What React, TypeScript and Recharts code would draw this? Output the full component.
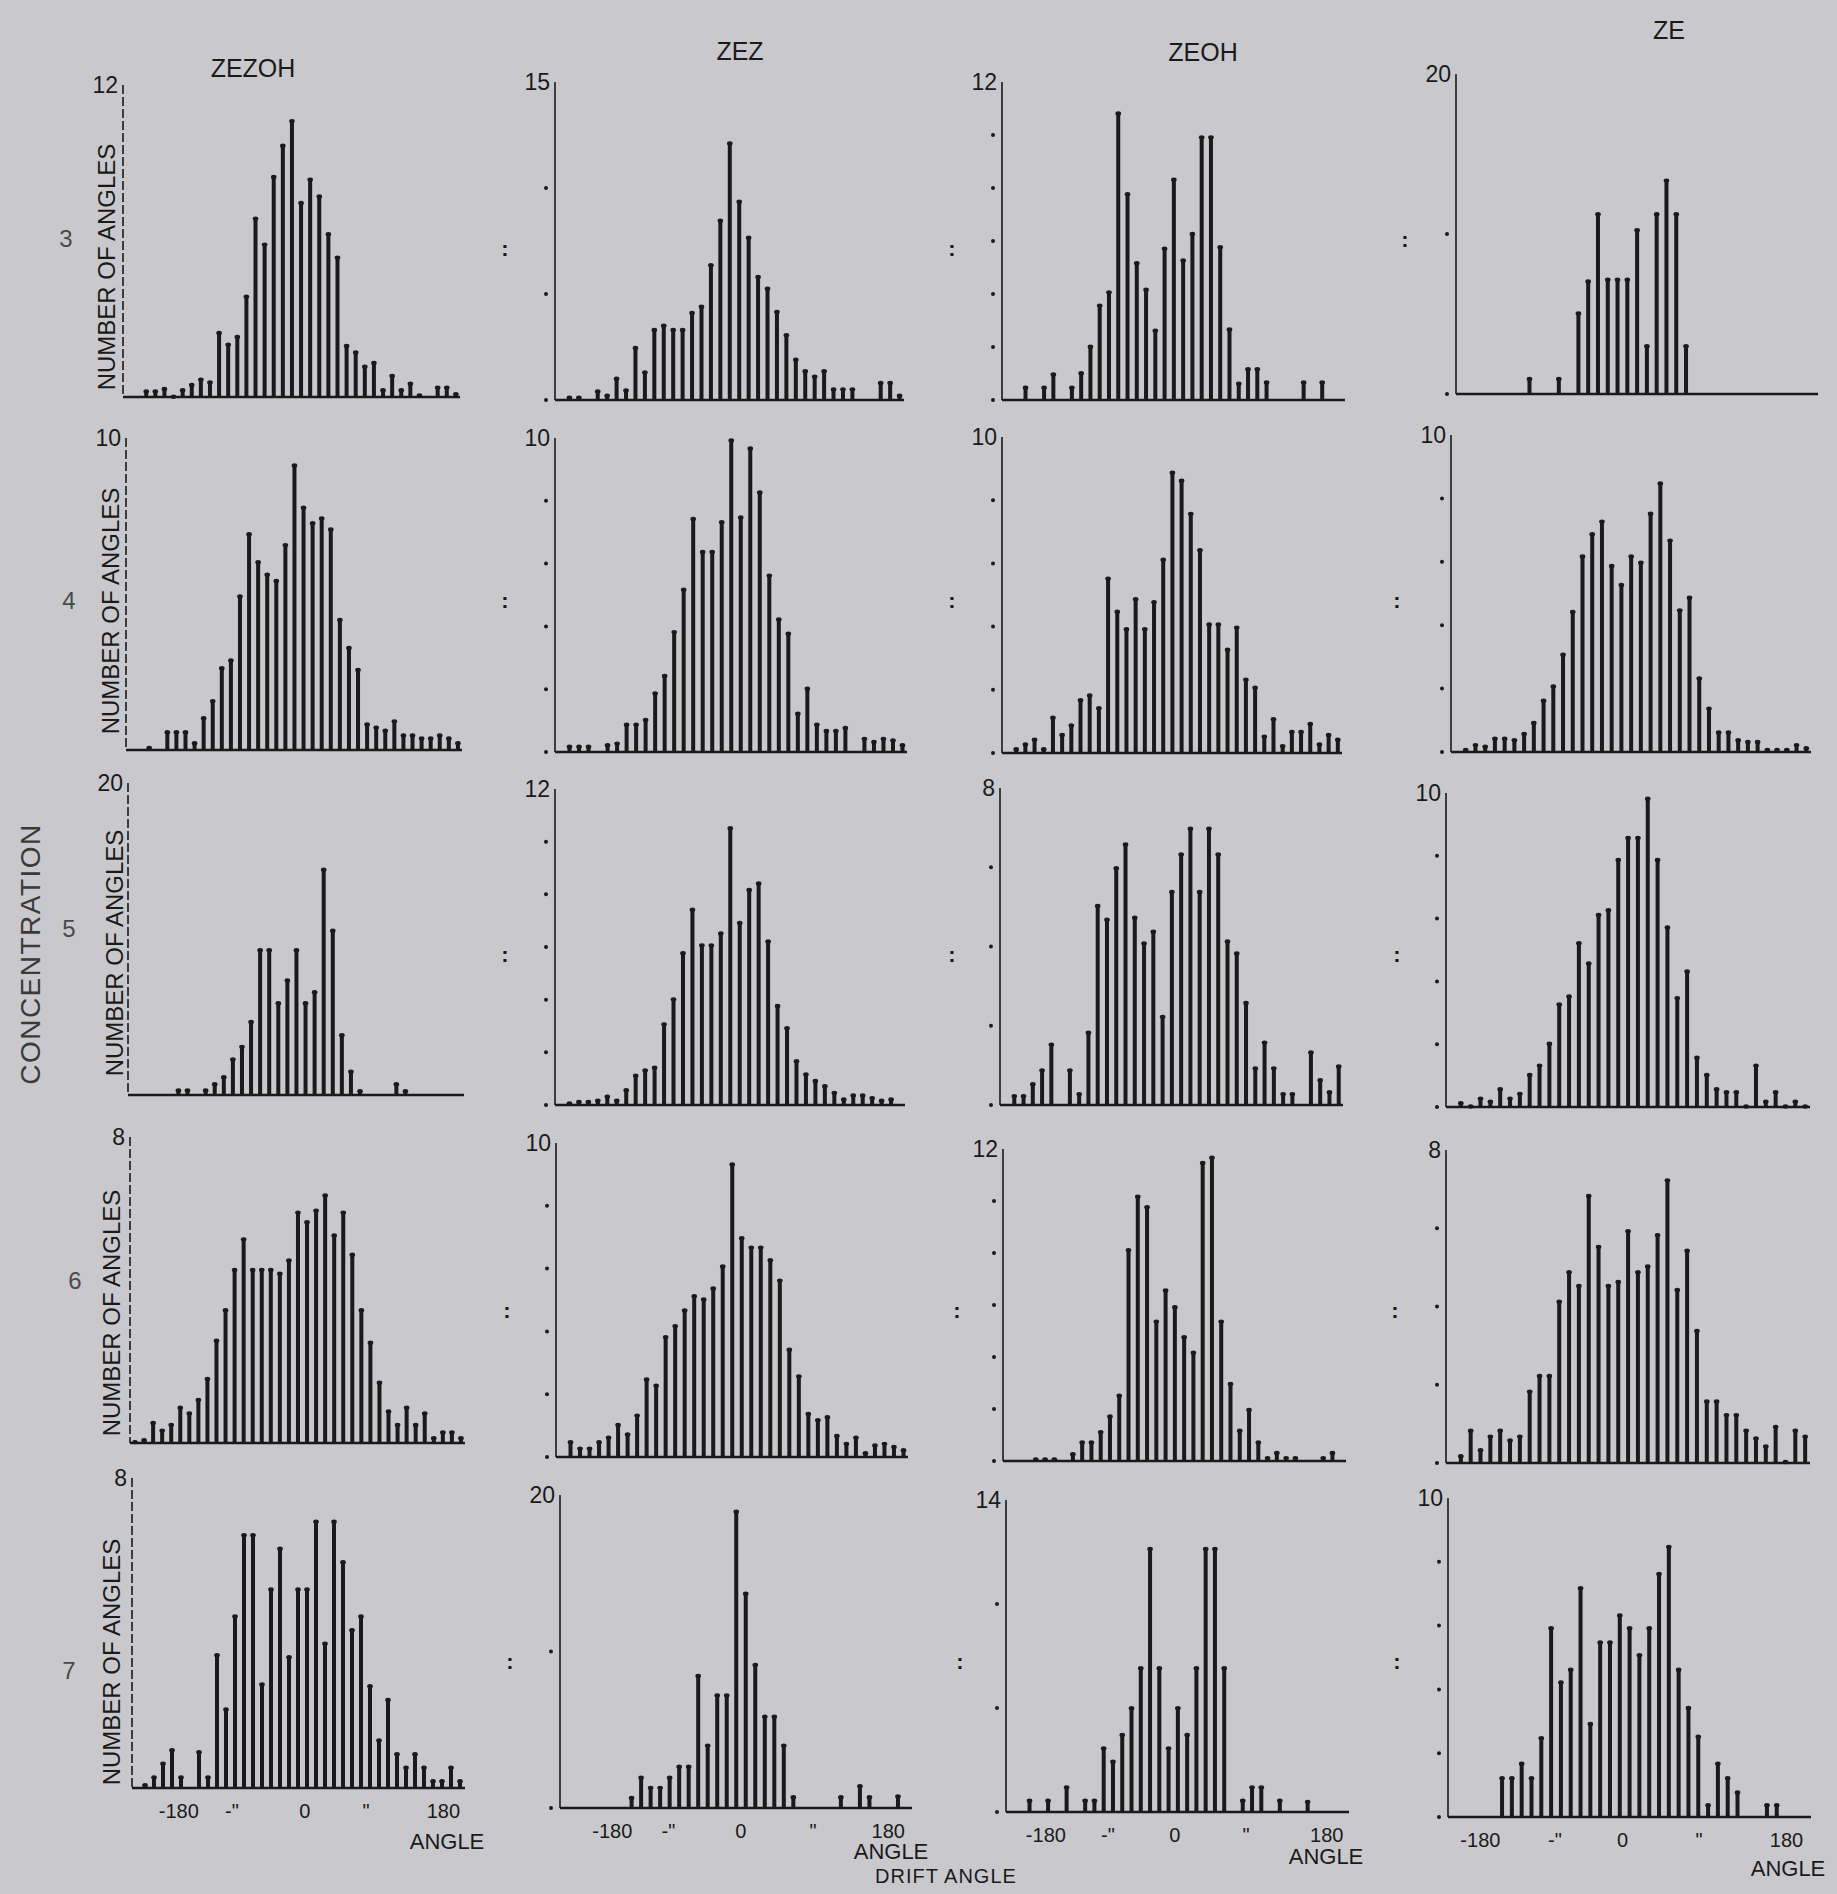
import React from "react";
import { BarChart, Bar, XAxis, YAxis } from "recharts";

const INK = "#1a1a1a";
const PAPER = "#c9c9cd";
const FONT = "'Liberation Sans', Arial, sans-serif";

const COMPOUNDS = ["ZEZOH", "ZEZ", "ZEOH", "ZE"];
const CONCENTRATIONS = ["3", "4", "5", "6", "7"];
const ANGLE_LABELS = ["-180", "-\"", "0", "\"", "180"];

// counts per angle bin (37 bins)
const ZEZOH_3 = [0, 0, 0.25, 0.25, 0.35, 0.05, 0.3, 0.5, 0.7, 0.6, 2.5, 2.05, 2.35, 3.9, 6.9, 5.9, 8.5, 9.7, 10.65, 7.5, 8.4, 7.75, 6.3, 5.4, 2.0, 1.75, 1.2, 1.35, 0.3, 0.85, 0.3, 0.55, 0.1, 0, 0.4, 0.4, 0.15];
const ZEZ_3 = [0, 0.15, 0.15, 0, 0.45, 0.25, 1.05, 0.5, 2.5, 1.35, 3.35, 3.55, 3.35, 3.35, 4.15, 4.45, 6.4, 8.5, 12.15, 9.4, 7.7, 5.85, 5.3, 4.2, 3.1, 1.95, 1.4, 1.15, 1.4, 0.55, 0.55, 0.55, 0, 0, 0.85, 0.85, 0.25];
const ZEOH_3 = [0, 0, 0.5, 0, 0.5, 1.0, 0, 0.5, 1.05, 2.05, 3.6, 4.1, 10.85, 7.8, 5.2, 4.2, 2.65, 5.75, 8.35, 5.3, 6.3, 9.95, 9.95, 5.8, 2.7, 0.65, 1.2, 1.2, 0.7, 0, 0, 0, 0.7, 0, 0.7, 0, 0];
const ZE_3 = [0, 0, 0, 0, 0, 0, 0, 1.0, 0, 0, 1.0, 0, 5.1, 7.1, 11.3, 7.2, 7.2, 7.2, 10.3, 3.05, 11.3, 13.4, 11.3, 3.05, 0, 0, 0, 0, 0, 0, 0, 0, 0, 0, 0, 0, 0];

const ZEZOH_4 = [0, 0, 0.1, 0, 0.6, 0.6, 0.6, 0.25, 1.05, 1.6, 2.65, 2.9, 4.95, 6.95, 6.05, 5.65, 5.45, 6.6, 9.15, 7.8, 7.3, 7.45, 7.1, 4.2, 3.3, 2.6, 0.85, 0.75, 0.65, 0.95, 0.5, 0.5, 0.4, 0.4, 0.5, 0.4, 0.25];
const ZEZ_4 = [0, 0.2, 0.2, 0.2, 0, 0.25, 0.3, 0.9, 0.9, 1.05, 1.9, 2.45, 3.85, 5.2, 7.45, 6.4, 6.4, 7.35, 9.95, 7.5, 9.7, 8.3, 5.65, 4.25, 3.8, 1.25, 2.05, 0.9, 0.7, 0.7, 0.8, 0, 0.45, 0.35, 0.45, 0.4, 0.25];
const ZEOH_4 = [0, 0.15, 0.3, 0.45, 0.15, 1.15, 0.6, 0.9, 1.7, 1.85, 1.45, 5.55, 4.5, 3.95, 4.9, 3.95, 4.8, 6.15, 8.9, 8.65, 7.6, 6.45, 4.1, 4.1, 3.3, 4.0, 2.35, 2.1, 0.55, 1.1, 0.25, 0.7, 0.7, 0.95, 0.3, 0.6, 0.45];
const ZE_4 = [0, 0.1, 0.25, 0.2, 0.45, 0.45, 0.4, 0.6, 0.95, 1.65, 2.1, 3.1, 4.45, 6.2, 6.9, 7.3, 5.9, 5.3, 6.2, 6.0, 7.55, 8.5, 6.7, 4.5, 4.9, 2.35, 1.4, 0.65, 0.65, 0.4, 0.35, 0.35, 0.1, 0.1, 0.1, 0.25, 0.15];

const ZEZOH_5 = [0, 0, 0, 0, 0, 0.35, 0.35, 0, 0.35, 0.75, 1.2, 2.35, 3.15, 4.75, 9.35, 9.35, 5.95, 7.4, 9.35, 5.95, 6.65, 14.5, 10.6, 3.9, 1.55, 0.3, 0, 0, 0, 0.75, 0.3, 0, 0, 0, 0, 0, 0];
const ZEZ_5 = [0, 0.1, 0.15, 0.15, 0.2, 0.35, 0.2, 0.6, 1.15, 1.35, 1.45, 3.1, 4.05, 5.8, 7.45, 6.1, 6.1, 6.55, 10.55, 6.95, 8.2, 8.45, 6.25, 3.8, 2.95, 1.7, 1.2, 0.95, 0.75, 0.5, 0.25, 0.4, 0.4, 0.3, 0.2, 0.25, 0];
const ZEOH_5 = [0, 0.25, 0.25, 0.55, 0.9, 1.55, 0, 0.9, 0.3, 1.85, 5.05, 4.7, 6.0, 6.6, 4.75, 4.1, 4.4, 2.25, 5.4, 6.35, 7.0, 5.4, 7.0, 6.35, 4.15, 3.85, 2.6, 0.95, 1.6, 0.95, 0.3, 0.3, 0, 1.35, 0.65, 0.35, 1.0];
const ZE_5 = [0, 0.15, 0.05, 0.3, 0.2, 0.6, 0.3, 0.45, 1.05, 1.35, 2.05, 3.3, 3.55, 5.25, 4.6, 6.15, 6.3, 7.9, 8.6, 8.6, 9.85, 7.9, 5.75, 3.5, 4.35, 1.6, 1.05, 0.6, 0.5, 0.5, 0.05, 1.35, 0.2, 0.5, 0.05, 0.2, 0.05];

const ZEZOH_6 = [0.05, 0.1, 0.55, 0.35, 0.5, 0.95, 0.8, 1.15, 1.7, 2.7, 3.5, 4.55, 5.35, 4.55, 4.55, 4.55, 4.45, 4.8, 6.05, 5.8, 6.1, 6.5, 5.45, 6.05, 4.95, 3.5, 2.65, 1.6, 0.85, 0.5, 0.95, 0.5, 0.8, 0.15, 0.3, 0.3, 0.15];
const ZEZ_6 = [0, 0.5, 0.3, 0.3, 0.5, 0.65, 1.05, 0.75, 1.35, 2.5, 2.3, 3.85, 4.2, 4.7, 5.15, 5.05, 5.4, 6.1, 9.35, 7.0, 6.7, 6.7, 6.3, 5.65, 3.45, 2.6, 1.4, 1.2, 1.3, 0.7, 0.45, 0.65, 0.15, 0.4, 0.45, 0.35, 0.25];
const ZEOH_6 = [0, 0, 0, 0.1, 0.1, 0.1, 0, 0.3, 0.75, 0.75, 1.15, 1.75, 2.55, 8.15, 10.2, 9.8, 5.4, 6.6, 5.95, 4.8, 4.2, 11.5, 11.7, 5.4, 3.0, 1.2, 2.0, 0.75, 0.15, 0.35, 0.15, 0.15, 0, 0, 0.15, 0.35, 0];
const ZE_6 = [0, 0.2, 0.85, 0.35, 0.7, 0.85, 0.6, 0.7, 1.85, 2.25, 2.25, 4.15, 4.9, 4.55, 6.85, 5.55, 4.55, 4.65, 5.95, 4.9, 5.05, 5.85, 7.25, 4.45, 5.45, 3.4, 1.6, 1.6, 1.25, 1.25, 0.85, 0.65, 0.45, 0.95, 0.05, 0.85, 0.7];

const ZEZOH_7 = [0, 0.1, 0.3, 0.65, 1.0, 0.3, 0, 0.95, 0.3, 3.45, 2.05, 4.45, 6.55, 6.55, 2.7, 5.15, 6.2, 3.4, 5.15, 5.15, 6.9, 3.75, 6.9, 5.85, 4.1, 4.45, 2.65, 1.25, 2.3, 0.9, 0.55, 0.9, 0.55, 0.2, 0.2, 0.55, 0.2];
const ZEZ_7 = [0, 0, 0, 0, 0, 0, 0, 0.7, 2.0, 1.35, 1.35, 2.0, 2.7, 2.7, 8.5, 4.05, 7.25, 7.25, 19.0, 13.75, 9.2, 5.9, 5.9, 4.05, 0.75, 0, 0, 0, 0, 0.75, 0, 1.45, 0.75, 0, 0, 0.8, 0];
const ZEOH_7 = [0, 0, 0.55, 0, 0.55, 0, 1.15, 0, 0.55, 0.55, 2.9, 2.3, 3.5, 4.7, 6.5, 11.85, 6.5, 2.9, 4.7, 3.5, 6.5, 11.85, 11.85, 6.5, 0, 0.55, 1.15, 1.15, 0, 0.55, 0, 0, 0.5, 0, 0, 0, 0];
const ZE_7 = [0, 0, 0, 0, 0, 1.25, 1.25, 1.7, 1.25, 2.5, 5.95, 4.25, 4.65, 7.2, 2.95, 5.5, 5.5, 6.35, 5.95, 5.1, 5.95, 7.65, 8.5, 4.65, 3.45, 2.55, 0.4, 1.7, 1.25, 0.8, 0, 0, 0.4, 0.4, 0, 0, 0];

// y-axis ticks of each panel (last one is the printed maximum)
const Y_TICKS = [
  [[0, 12], [0, 5, 10, 15], [0, 2, 4, 6, 8, 10, 12], [0, 10, 20]],
  [[0, 10], [0, 2, 4, 6, 8, 10], [0, 2, 4, 6, 8, 10], [0, 2, 4, 6, 8, 10]],
  [[0, 20], [0, 2, 4, 6, 8, 10, 12], [0, 2, 4, 6, 8], [0, 2, 4, 6, 8, 10]],
  [[0, 8], [0, 2, 4, 6, 8, 10], [0, 2, 4, 6, 8, 10, 12], [0, 2, 4, 6, 8]],
  [[0, 8], [0, 10, 20], [0, 14 / 3, 28 / 3, 14], [0, 2, 4, 6, 8, 10]],
];

const SERIES = [
  [ZEZOH_3, ZEZ_3, ZEOH_3, ZE_3],
  [ZEZOH_4, ZEZ_4, ZEOH_4, ZE_4],
  [ZEZOH_5, ZEZ_5, ZEOH_5, ZE_5],
  [ZEZOH_6, ZEZ_6, ZEOH_6, ZE_6],
  [ZEZOH_7, ZEZ_7, ZEOH_7, ZE_7],
];

// ---- layout (page px) ----
// plot box of every panel: [left, right, top, baseline]
const BOXES = [
  [[123, 460, 85, 397], [555, 904, 82, 400], [1002, 1345, 82, 400], [1456, 1818, 74, 394]],
  [[126, 462, 438, 750], [555, 907, 438, 752], [1002, 1342, 437, 753], [1451, 1811, 435, 752]],
  [[128, 464, 783, 1095], [555, 905, 789, 1105], [1000, 1343, 788, 1105], [1446, 1810, 793, 1107]],
  [[130, 465, 1137, 1443], [556, 908, 1143, 1457], [1003, 1346, 1149, 1461], [1446, 1810, 1150, 1463]],
  [[132, 465, 1478, 1788], [560, 912, 1495, 1808], [1006, 1349, 1500, 1812], [1448, 1811, 1498, 1817]],
];
// where the hand-lettered angle labels sit, in bin units, per column
const ANGLE_TICK_POS = [
  [4.7, 10.6, 18.7, 25.5, 34.1],
  [5.0, 10.9, 18.5, 26.1, 34.0],
  [3.8, 10.5, 17.7, 25.4, 34.1],
  [2.8, 10.4, 17.3, 25.1, 34.0],
];
const TITLE_POS = [[253, 68], [740, 51], [1203, 52], [1669, 30]];
const ROW_LABEL_POS = [[66, 238], [69, 600], [69, 928], [75, 1280], [69, 1670]];
const YLABEL_POS = [[106, 267], [110, 611], [114, 953], [111, 1313], [111, 1662]];
const COLON_POS = [
  [[505, 248], [952, 248], [1405, 239]],
  [[505, 600], [952, 600], [1397, 600]],
  [[505, 954], [952, 954], [1397, 954]],
  [[507, 1310], [957, 1310], [1395, 1310]],
  [[510, 1661], [960, 1661], [1397, 1661]],
];
const ANGLE_TITLE_POS = [[447, 1841], [891, 1851], [1326, 1856], [1788, 1868]];

const Y_W = 60;
const M_TOP = 14;
const M_RIGHT = 8;
const X_H = 40;

// thin ink stroke with the small blob the plotter left at its top
function Stroke(props) {
  const { x, y, width, height } = props;
  if (!height || height <= 0) return <g />;
  return (
    <g fill={INK}>
      <rect x={x} y={y} width={width} height={height} />
      <ellipse cx={x + width / 2} cy={y + 1} rx={width / 2 + 0.8} ry={2.2} />
    </g>
  );
}

function Panel({ values, yTicks, box, col, bottomRow }) {
  const [left, right, top, base] = box;
  const yMax = yTicks[yTicks.length - 1];
  const data = values.map((v, i) => ({ bin: i, count: v }));
  const width = right - left + Y_W + M_RIGHT;
  const height = base - top + M_TOP + X_H;

  const yTick = (p) => {
    const v = p.payload.value;
    if (v === yMax) {
      return (
        <text x={p.x - 5} y={p.y} textAnchor="end" dominantBaseline="central" fontSize={23} fontFamily={FONT} fill={INK}>
          {yMax}
        </text>
      );
    }
    if (col === 0) return <g />;
    return <circle cx={p.x - 9} cy={p.y} r={2} fill={INK} />;
  };

  const xTick = (p) => {
    const idx = ANGLE_TICK_POS[col].indexOf(p.payload.value);
    return (
      <text x={p.x} y={p.y + 23} textAnchor="middle" dominantBaseline="central" fontSize={20} fontFamily={FONT} fill={INK}>
        {ANGLE_LABELS[idx]}
      </text>
    );
  };

  return (
    <div style={{ position: "absolute", left: left - Y_W, top: top - M_TOP }}>
      <BarChart width={width} height={height} data={data} margin={{ top: M_TOP, right: M_RIGHT, bottom: 0, left: 0 }}>
        <XAxis
          dataKey="bin"
          type="number"
          domain={[-0.5, 36.5]}
          ticks={ANGLE_TICK_POS[col]}
          interval={0}
          height={X_H}
          tickLine={false}
          tickSize={0}
          tickMargin={0}
          tick={bottomRow ? xTick : false}
          axisLine={{ stroke: INK, strokeWidth: 2.5 }}
        />
        <YAxis
          type="number"
          domain={[0, yMax]}
          ticks={yTicks}
          interval={0}
          width={Y_W}
          tickLine={false}
          tickSize={0}
          tickMargin={0}
          tick={yTick}
          axisLine={{ stroke: INK, strokeWidth: 1.6, strokeDasharray: col === 0 ? "9 3" : undefined }}
        />
        <Bar dataKey="count" fill={INK} barSize={4} shape={Stroke} isAnimationActive={false} />
      </BarChart>
    </div>
  );
}

export default function App() {
  return (
    <div style={{ position: "absolute", left: 0, top: 0, width: 1837, height: 1894, background: PAPER, overflow: "hidden" }}>
      {SERIES.map((row, r) =>
        row.map((values, c) => (
          <Panel key={`${r}-${c}`} values={values} yTicks={Y_TICKS[r][c]} box={BOXES[r][c]} col={c} bottomRow={r === SERIES.length - 1} />
        ))
      )}

      <svg width={1837} height={1894} style={{ position: "absolute", left: 0, top: 0, pointerEvents: "none" }}>
        <g fontFamily={FONT} fill={INK}>
          {COMPOUNDS.map((name, c) => (
            <text key={name} x={TITLE_POS[c][0]} y={TITLE_POS[c][1]} fontSize={25} textAnchor="middle" dominantBaseline="central">
              {name}
            </text>
          ))}

          {CONCENTRATIONS.map((conc, r) => (
            <text key={conc} x={ROW_LABEL_POS[r][0]} y={ROW_LABEL_POS[r][1]} fontSize={24} fill="#4a4a4a" textAnchor="middle" dominantBaseline="central">
              {conc}
            </text>
          ))}

          <text x={30} y={954} fontSize={28} letterSpacing={1.5} fill="#3a3a3a" textAnchor="middle" dominantBaseline="central" transform="rotate(-90 30 954)">
            CONCENTRATION
          </text>

          {YLABEL_POS.map(([x, y], r) => (
            <text key={`yl-${r}`} x={x} y={y} fontSize={24} textAnchor="middle" dominantBaseline="central" transform={`rotate(-90 ${x} ${y})`}>
              NUMBER OF ANGLES
            </text>
          ))}

          {COLON_POS.map((row, r) =>
            row.map(([x, y], c) => (
              <text key={`col-${r}-${c}`} x={x} y={y} fontSize={22} fontWeight="bold" textAnchor="middle" dominantBaseline="central">
                :
              </text>
            ))
          )}

          {ANGLE_TITLE_POS.map(([x, y], c) => (
            <text key={`at-${c}`} x={x} y={y} fontSize={22} textAnchor="middle" dominantBaseline="central">
              ANGLE
            </text>
          ))}

          <text x={946} y={1876} fontSize={20} letterSpacing={1} textAnchor="middle" dominantBaseline="central">
            DRIFT  ANGLE
          </text>
        </g>
      </svg>
    </div>
  );
}
